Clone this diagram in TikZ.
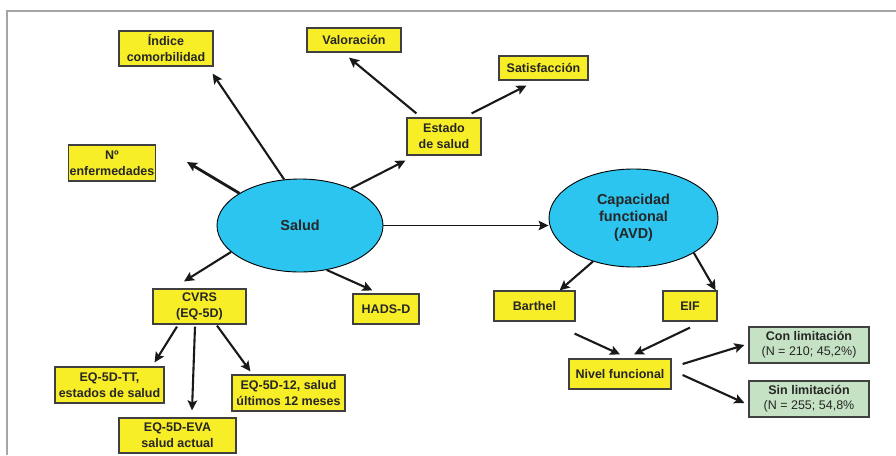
\documentclass[tikz,border=0pt]{standalone}
\usepackage{fontspec}
\setmainfont{Liberation Sans}
\usepackage{tikz}
\usetikzlibrary{shapes.geometric,arrows.meta}
\definecolor{cajaamarilla}{RGB}{248,238,40}
\definecolor{elipseazul}{RGB}{44,197,240}
\definecolor{cajaverde}{RGB}{198,226,196}

\begin{document}
\begin{tikzpicture}[x=1pt,y=-1pt,
  caja/.style={rectangle,draw=black!75,line width=1.2pt,fill=cajaamarilla,align=center,inner sep=1pt,text=black!85,font=\bfseries\fontsize{12.5}{16}\selectfont},
  elip/.style={ellipse,draw=black,line width=0.9pt,fill=elipseazul,align=center,inner sep=0pt,text=black!85,font=\bfseries\fontsize{14.4}{17}\selectfont},
  res/.style={caja,fill=cajaverde,font=\fontsize{12.5}{15}\selectfont},
  arr/.style={-{Stealth[length=10pt,width=9.5pt,inset=2pt]},line width=2.1pt,black!90}
]
\useasboundingbox (0,0) rectangle (896,455);
\draw[black!35,line width=1.5pt] (7,455) -- (7,11) -- (896,11);

% nodos de salud
\node[elip,minimum width=166,minimum height=93] (salud) at (300,225.5) {Salud};
\node[caja,minimum width=94,minimum height=35] (ind) at (166,48.5) {Índice\\comorbilidad};
\node[caja,minimum width=86,minimum height=36] (nro) at (112,163) {Nº\\enfermedades};
\node[caja,minimum width=74,minimum height=37] (estado) at (444,136.5) {Estado\\de salud};
\node[caja,minimum width=94,minimum height=24] (valor) at (354,40) {Valoración};
\node[caja,minimum width=89,minimum height=24] (satis) at (543.5,68) {Satisfacción};
\node[caja,minimum width=93,minimum height=35] (cvrs) at (199.5,306.5) {CVRS\\(EQ-5D)};
\node[caja,minimum width=66,minimum height=30] (hads) at (386,309) {HADS-D};
\node[caja,minimum width=109,minimum height=36] (tt) at (109.5,385) {EQ-5D-TT,\\estados de salud};
\node[caja,minimum width=117,minimum height=35] (eva) at (177.5,435.5) {EQ-5D-EVA\\salud actual};
\node[caja,minimum width=113,minimum height=36] (doce) at (288.5,393) {EQ-5D-12, salud\\últimos 12 meses};

% nodos de capacidad funcional
\node[elip,minimum width=169,minimum height=98] (cap) at (633.5,218) {Capacidad\\functional\\(AVD)};
\node[caja,minimum width=81,minimum height=30] (barthel) at (534.5,306) {Barthel};
\node[caja,minimum width=54,minimum height=30] (eif) at (690,306) {EIF};
\node[caja,minimum width=102,minimum height=30] (nivel) at (620,374) {Nivel funcional};
\node[res,minimum width=120,minimum height=36] (con) at (809,345) {\textbf{Con limitación}\\(N = 210; 45,2\%)};
\node[res,minimum width=120,minimum height=36] (sin) at (809,399) {\textbf{Sin limitación}\\(N = 255; 54,8\%};

% flechas
\draw[arr] (salud.109) -- ([shift={(-1,7)}]ind.south east);
\draw[arr,line width=2.8pt] (salud.152) -- ([shift={(31,-1)}]nro.east);
\draw[arr] (salud.36) -- ([shift={(-1,5)}]estado.south west);
\draw[arr] ([shift={(10,-4)}]estado.north west) -- ([shift={(-5,5)}]valor.south);
\draw[arr] ([shift={(-10,-4)}]estado.north east) -- ([shift={(28,5)}]satis.south west);
\draw[arr,line width=1.5pt] (salud.east) -- (salud.east -| cap.west);
\draw[arr] (salud.201) -- ([shift={(-15.5,-7)}]cvrs.north);
\draw[arr] (salud.301) -- ([shift={(20,-3)}]hads.north west);
\draw[arr] ([shift={(-22.5,2)}]cvrs.south) -- ([shift={(-10,-4)}]tt.north east);
\draw[arr] ([shift={(-4.5,2)}]cvrs.south) -- ([shift={(14.5,-7)}]eva.north);
\draw[arr] ([shift={(17.5,1)}]cvrs.south) -- ([shift={(19,-3)}]doce.north west);
\draw[arr] (cap.227) -- ([shift={(-16,0)}]barthel.north east);
\draw[arr] (cap.330) -- ([shift={(-2,0)}]eif.north east);
\draw[arr] ([shift={(-1,12)}]barthel.south east) -- ([shift={(0,-4)}]nivel.north);
\draw[arr] ([shift={(0,6)}]eif.south) -- ([shift={(14,-4)}]nivel.north);
\draw[arr] ([shift={(11,-10)}]nivel.east) -- ([shift={(-4,0)}]con.west);
\draw[arr] ([shift={(11,1)}]nivel.east) -- ([shift={(-4,4)}]sin.west);
\end{tikzpicture}
\end{document}
